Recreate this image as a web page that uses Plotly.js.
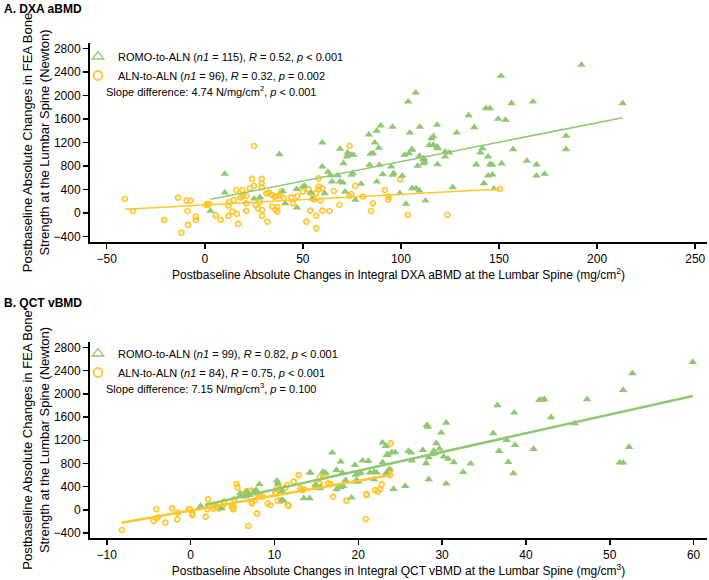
<!DOCTYPE html>
<html>
<head>
<meta charset="utf-8">
<script src="https://cdn.plot.ly/plotly-3.0.1.min.js"></script>
<style>html,body{margin:0;padding:0;background:#fff;}#chart{width:709px;height:580px;}</style>
</head>
<body>
<div id="chart"></div>
<script>
// ---------- Panel A: DXA aBMD ----------
const aRomoX = [192,151,107.5,103.7,156.4,167.3,213,143.3,145.4,134.5,149.5,153.3,137.4,128.4,118.4,109.6,104.5,95.7,89.7,87.7,83.6,86.7,88.7,116.5,115.5,114.5,116.5,118.4,184.2,184.2,157.2,141.5,105.5,122.6,124.7,122.5,109.4,111.5,111.5,140.5,144.4,118.6,138.4,145.4,146.6,151.3,164.2,169.1,169.1,173.2,144.5,146.6,142.3,147.4,126.4,112.5,102.6,99.4,105.7,107.7,109.4,95,96.3,95.8,100.6,90.7,89,87.7,79.7,76.8,71.6,70.4,75.5,74.7,74.7,75.8,72.4,70.7,118.7,111.6,112,108.5,105.7,104,101.8,85.7,84.5,59.9,38,68.9,72.8,59.9,62.8,64,67.8,64.8,69,84,10.2,10.2,2.9,25.1,28.1,39.8,46.8,49.9,50.9,53.9,61.1,54.8,47,41];
const aRomoY = [2519,2332,2048,1895,1867,1895,1867,1782,1782,1663,1600,1583,1459,1367,1498,1464,1367,1464,1486,1396,1333,1197,1106,1305,1271,1157,1157,1128,1311,1084,1084,1101,1084,1043,1027,958,970,914,846,1027,958,829,823,829,817,840,885,823,635,664,635,652,505,414,437,210,153,335,420,420,380,788,676,647,630,659,817,533,494,221,363,516,676,647,987,987,958,846,1101,931,873,800,1072,1016,987,1016,1004,1197,999,1089,1027,788,698,642,642,533,533,817,664,346,34,244,267,369,408,448,460,346,335,244,90,165];
const aAlnX = [-40.7,-36.5,-20.7,-13.6,-11.9,-9.3,-7.3,-8.8,-8.5,-4.6,-4.6,2.2,1.2,5.6,8.1,12.4,12.1,14.1,16.4,17,16.1,19.2,25.1,24.1,29,29,29,25.1,22.9,31.4,32.6,39,34.3,36.5,35.6,37.7,19.5,21.2,18.3,14.9,28,21.2,26,27.1,34.5,37,36.1,37,40.4,44.1,47.2,45,50,52.9,54.3,55.6,58,58,59.9,58,56.8,59,65.8,73.8,74.7,73.8,76.7,80.6,85.7,91.8,93.6,93.6,99.6,103.5,84.8,68.7,63.6,59.9,53.8,56.8,51.8,56.8,31.9,29.2,29.2,21.2,12.1,1.7,0.9,123.7,150.5];
const aAlnY = [238,34,-119,261,-335,210,210,34,-204,-62,-119,153,153,-40,-119,187,124,22,-17,-187,391,391,1140,579,579,505,437,460,420,335,346,363,306,289,277,289,289,289,267,221,187,165,136,80,107,97,56,22,250,267,289,165,363,403,335,233,448,403,420,590,335,210,374,1140,323,289,460,277,165,391,277,233,573,-34,34,136,34,39,39,-51,-148,-261,-148,-51,51,34,-51,136,136,-34,408];
const aRomoFitX = [3, 213];
const aRomoFitY = [233, 1622];
const aAlnFitX = [-40.7, 150.5];
const aAlnFitY = [63, 408];

// ---------- Panel B: QCT vBMD ----------
const bRomoX = [59.9,52.7,51.6,47.3,41.6,41.9,42.2,43,45.8,36.6,38.6,36.1,30.5,28.3,28.2,29.9,37.7,38.7,40.9,36.8,52.3,51.2,51.6,37.9,38.5,32.5,33.4,31.4,30.7,30.2,29.7,29.3,29,29.1,28.8,28.4,28.1,27.7,26,26.3,26.4,24,24.4,28.4,30.5,25.6,24.2,22.9,23.3,23.5,19.6,20.5,21.2,17.9,20.3,21.4,21.9,22.2,22.9,23.4,23.7,23.3,19.8,18.5,21.9,19.2,17.8,16.9,14.2,14.3,15.8,16.1,17.4,18.1,19.7,18.2,17.9,17.4,15.4,19.7,13.5,14.2,10.9,3.7,1.2,5.9,6,6.6,7,6.7,8.2,7.8,7.5,10.3,10.4,10.9,11.1,14.9,15.5,20,20.1];
const bRomoY = [2550,2355,2067,1906,1894,1894,1906,1596,1492,1803,1675,1320,1502,1433,1463,1330,1204,1118,1049,1014,1083,813,813,825,630,652,795,819,881,916,1054,1147,1019,975,957,906,802,1031,1014,985,847,992,992,526,450,410,359,1158,1101,957,773,847,842,830,640,640,657,640,819,945,699,630,514,514,526,209,399,985,640,640,657,640,687,640,605,410,388,354,371,485,198,198,169,26,66,285,243,226,255,312,440,341,302,502,457,324,157,428,398,485,630];
const bAlnX = [23.9,23.8,23.8,22.8,22,22.3,22.6,21,21,18.6,20.9,17,15.8,16.1,16.4,16.7,15.4,15.4,14.9,12.9,12.3,13.1,13.3,13.5,11.5,10.7,10.3,10.1,11.7,10.4,9.2,9.5,8.6,8.3,8,7.7,7.3,7.3,7.9,6.9,6.5,6.7,7.1,7.3,5.5,5.6,5.2,4.9,5.1,4,3.5,3.4,3.1,2.7,2.9,2.1,2.1,1.8,-0.1,0.2,0.2,-8.2,-4.4,-4.1,-3.9,-4.1,-3,-2.2,-1.5,-1.6,-0.2,11.3,11.6,10.2,10.8,6.2,5.1,5.1,3.8,2];
const bAlnY = [1147,686,600,440,341,312,354,272,255,157,-159,226,583,583,457,445,560,457,410,600,485,371,341,354,428,371,371,295,71,157,112,83,226,255,272,169,140,112,-60,-279,285,324,312,330,445,388,181,53,26,140,100,26,43,26,53,181,66,-119,9,-60,-90,-348,-193,-147,-129,14,-222,26,-50,-164,14,381,83,285,157,255,66,9,66,14];
const bRomoFitX = [1.7, 59.9];
const bRomoFitY = [83, 1963];
const bAlnFitX = [-8.2, 23.9];
const bAlnFitY = [-222, 600];

const yTicks = [-400,0,400,800,1200,1600,2000,2400,2800];
const aXTicks = [-50,0,50,100,150,200,250];
const bXTicks = [-10,0,10,20,30,40,50,60];

const legendA = [
  'ROMO-to-ALN (<i>n1</i> = 115), <i>R</i> = 0.52, <i>p</i> &lt; 0.001',
  'ALN-to-ALN (<i>n1</i> = 96), <i>R</i> = 0.32, <i>p</i> = 0.002'
];
const legendB = [
  'ROMO-to-ALN (<i>n1</i> = 99), <i>R</i> = 0.82, <i>p</i> &lt; 0.001',
  'ALN-to-ALN (<i>n1</i> = 84), <i>R</i> = 0.75, <i>p</i> &lt; 0.001'
];
const slopeA = 'Slope difference: 4.74 N/mg/cm<sup>2</sup>, <i>p</i> &lt; 0.001';
const slopeB = 'Slope difference: 7.15 N/mg/cm<sup>3</sup>, <i>p</i> = 0.100';

const GREEN = '#8fc873';
const YELLOW = '#ffc72c';
const FONT = 'Liberation Sans Narrow, Arial Narrow, Liberation Sans, Arial, sans-serif';

function pts(x, y, xa, ya, kind) {
  if (kind === 'romo') {
    return {x, y, xaxis: xa, yaxis: ya, type: 'scatter', mode: 'markers', showlegend: false,
      marker: {symbol: 'triangle-up', size: 7.5, color: GREEN, line: {width: 0}}, hoverinfo: 'skip'};
  }
  return {x, y, xaxis: xa, yaxis: ya, type: 'scatter', mode: 'markers', showlegend: false,
    marker: {symbol: 'circle-open', size: 5, color: YELLOW, line: {width: 1.7, color: YELLOW}}, hoverinfo: 'skip'};
}
function fit(x, y, xa, ya, color, w) {
  return {x, y, xaxis: xa, yaxis: ya, type: 'scatter', mode: 'lines', showlegend: false,
    line: {color, width: w}, hoverinfo: 'skip'};
}
function leg(name, kind, legendId, xa, ya) {
  const m = kind === 'romo'
    ? {symbol: 'triangle-up-open', size: 10, color: GREEN, line: {width: 1.3, color: GREEN}}
    : {symbol: 'circle-open', size: 9, color: YELLOW, line: {width: 1.8, color: YELLOW}};
  return {x: [null], y: [null], xaxis: xa, yaxis: ya, type: 'scatter', mode: 'markers', name,
    marker: m, legend: legendId, showlegend: true};
}

const data = [
  pts(aAlnX, aAlnY, 'x', 'y', 'aln'),
  pts(aRomoX, aRomoY, 'x', 'y', 'romo'),
  fit(aRomoFitX, aRomoFitY, 'x', 'y', GREEN, 1.5),
  fit(aAlnFitX, aAlnFitY, 'x', 'y', YELLOW, 1.5),
  leg(legendA[0], 'romo', 'legend', 'x', 'y'),
  leg(legendA[1], 'aln', 'legend', 'x', 'y'),
  pts(bAlnX, bAlnY, 'x2', 'y2', 'aln'),
  pts(bRomoX, bRomoY, 'x2', 'y2', 'romo'),
  fit(bRomoFitX, bRomoFitY, 'x2', 'y2', GREEN, 2.5),
  fit(bAlnFitX, bAlnFitY, 'x2', 'y2', YELLOW, 2.5),
  leg(legendB[0], 'romo', 'legend2', 'x2', 'y2'),
  leg(legendB[1], 'aln', 'legend2', 'x2', 'y2')
];

const W = 709, H = 580;
const px = v => v / W;
const py = v => 1 - v / H;

const yTitle = 'Postbaseline Absolute Changes in FEA Bone<br>Strength at the Lumbar Spine (Newton)';
const axisCommon = {
  showgrid: false, zeroline: false, showline: true, linecolor: '#000', linewidth: 2,
  ticks: 'outside', ticklen: 5, tickwidth: 1.5, tickcolor: '#000',
  tickfont: {family: FONT, size: 12, color: '#000'}
};

const layout = {
  width: W, height: H,
  margin: {l: 0, r: 0, t: 0, b: 0},
  paper_bgcolor: '#fff', plot_bgcolor: '#fff',
  font: {family: FONT, color: '#000'},
  xaxis: Object.assign({}, axisCommon, {
    domain: [px(90), px(707)], anchor: 'y', range: [-58.5, 256], tickvals: aXTicks,
    title: {text: 'Postbaseline Absolute Changes in Integral DXA aBMD at the Lumbar Spine (mg/cm<sup>2</sup>)',
      font: {family: FONT, size: 12}, standoff: 2}
  }),
  yaxis: Object.assign({}, axisCommon, {
    domain: [py(242), py(43)], anchor: 'x', range: [-494, 2893], tickvals: yTicks,
    title: {text: yTitle, font: {family: FONT, size: 13}, standoff: 1}
  }),
  xaxis2: Object.assign({}, axisCommon, {
    domain: [px(90), px(707)], anchor: 'y2', range: [-12.0, 61.6], tickvals: bXTicks,
    title: {text: 'Postbaseline Absolute Changes in Integral QCT vBMD at the Lumbar Spine (mg/cm<sup>3</sup>)',
      font: {family: FONT, size: 12}, standoff: 2}
  }),
  yaxis2: Object.assign({}, axisCommon, {
    domain: [py(538), py(342)], anchor: 'x2', range: [-486, 2895], tickvals: yTicks,
    title: {text: yTitle, font: {family: FONT, size: 13}, standoff: 1}
  }),
  legend: {x: px(78), y: py(42), xanchor: 'left', yanchor: 'top', bgcolor: 'rgba(0,0,0,0)',
    font: {family: FONT, size: 11, color: '#000'}, tracegroupgap: 0, itemsizing: 'trace'},
  legend2: {x: px(78), y: py(339), xanchor: 'left', yanchor: 'top', bgcolor: 'rgba(0,0,0,0)',
    font: {family: FONT, size: 11, color: '#000'}, tracegroupgap: 0, itemsizing: 'trace'},
  annotations: [
    {xref: 'paper', yref: 'paper', x: px(2), y: py(9), xanchor: 'left', yanchor: 'middle', showarrow: false,
      text: '<b>A. DXA aBMD</b>', font: {family: FONT, size: 12, color: '#000'}},
    {xref: 'paper', yref: 'paper', x: px(2), y: py(303), xanchor: 'left', yanchor: 'middle', showarrow: false,
      text: '<b>B. QCT vBMD</b>', font: {family: FONT, size: 12, color: '#000'}},
    {xref: 'paper', yref: 'paper', x: px(104), y: py(91), xanchor: 'left', yanchor: 'middle', showarrow: false,
      text: slopeA, font: {family: FONT, size: 11, color: '#000'}},
    {xref: 'paper', yref: 'paper', x: px(104), y: py(388), xanchor: 'left', yanchor: 'middle', showarrow: false,
      text: slopeB, font: {family: FONT, size: 11, color: '#000'}}
  ]
};

Plotly.newPlot('chart', data, layout, {displayModeBar: false, staticPlot: true});
</script>
</body>
</html>
